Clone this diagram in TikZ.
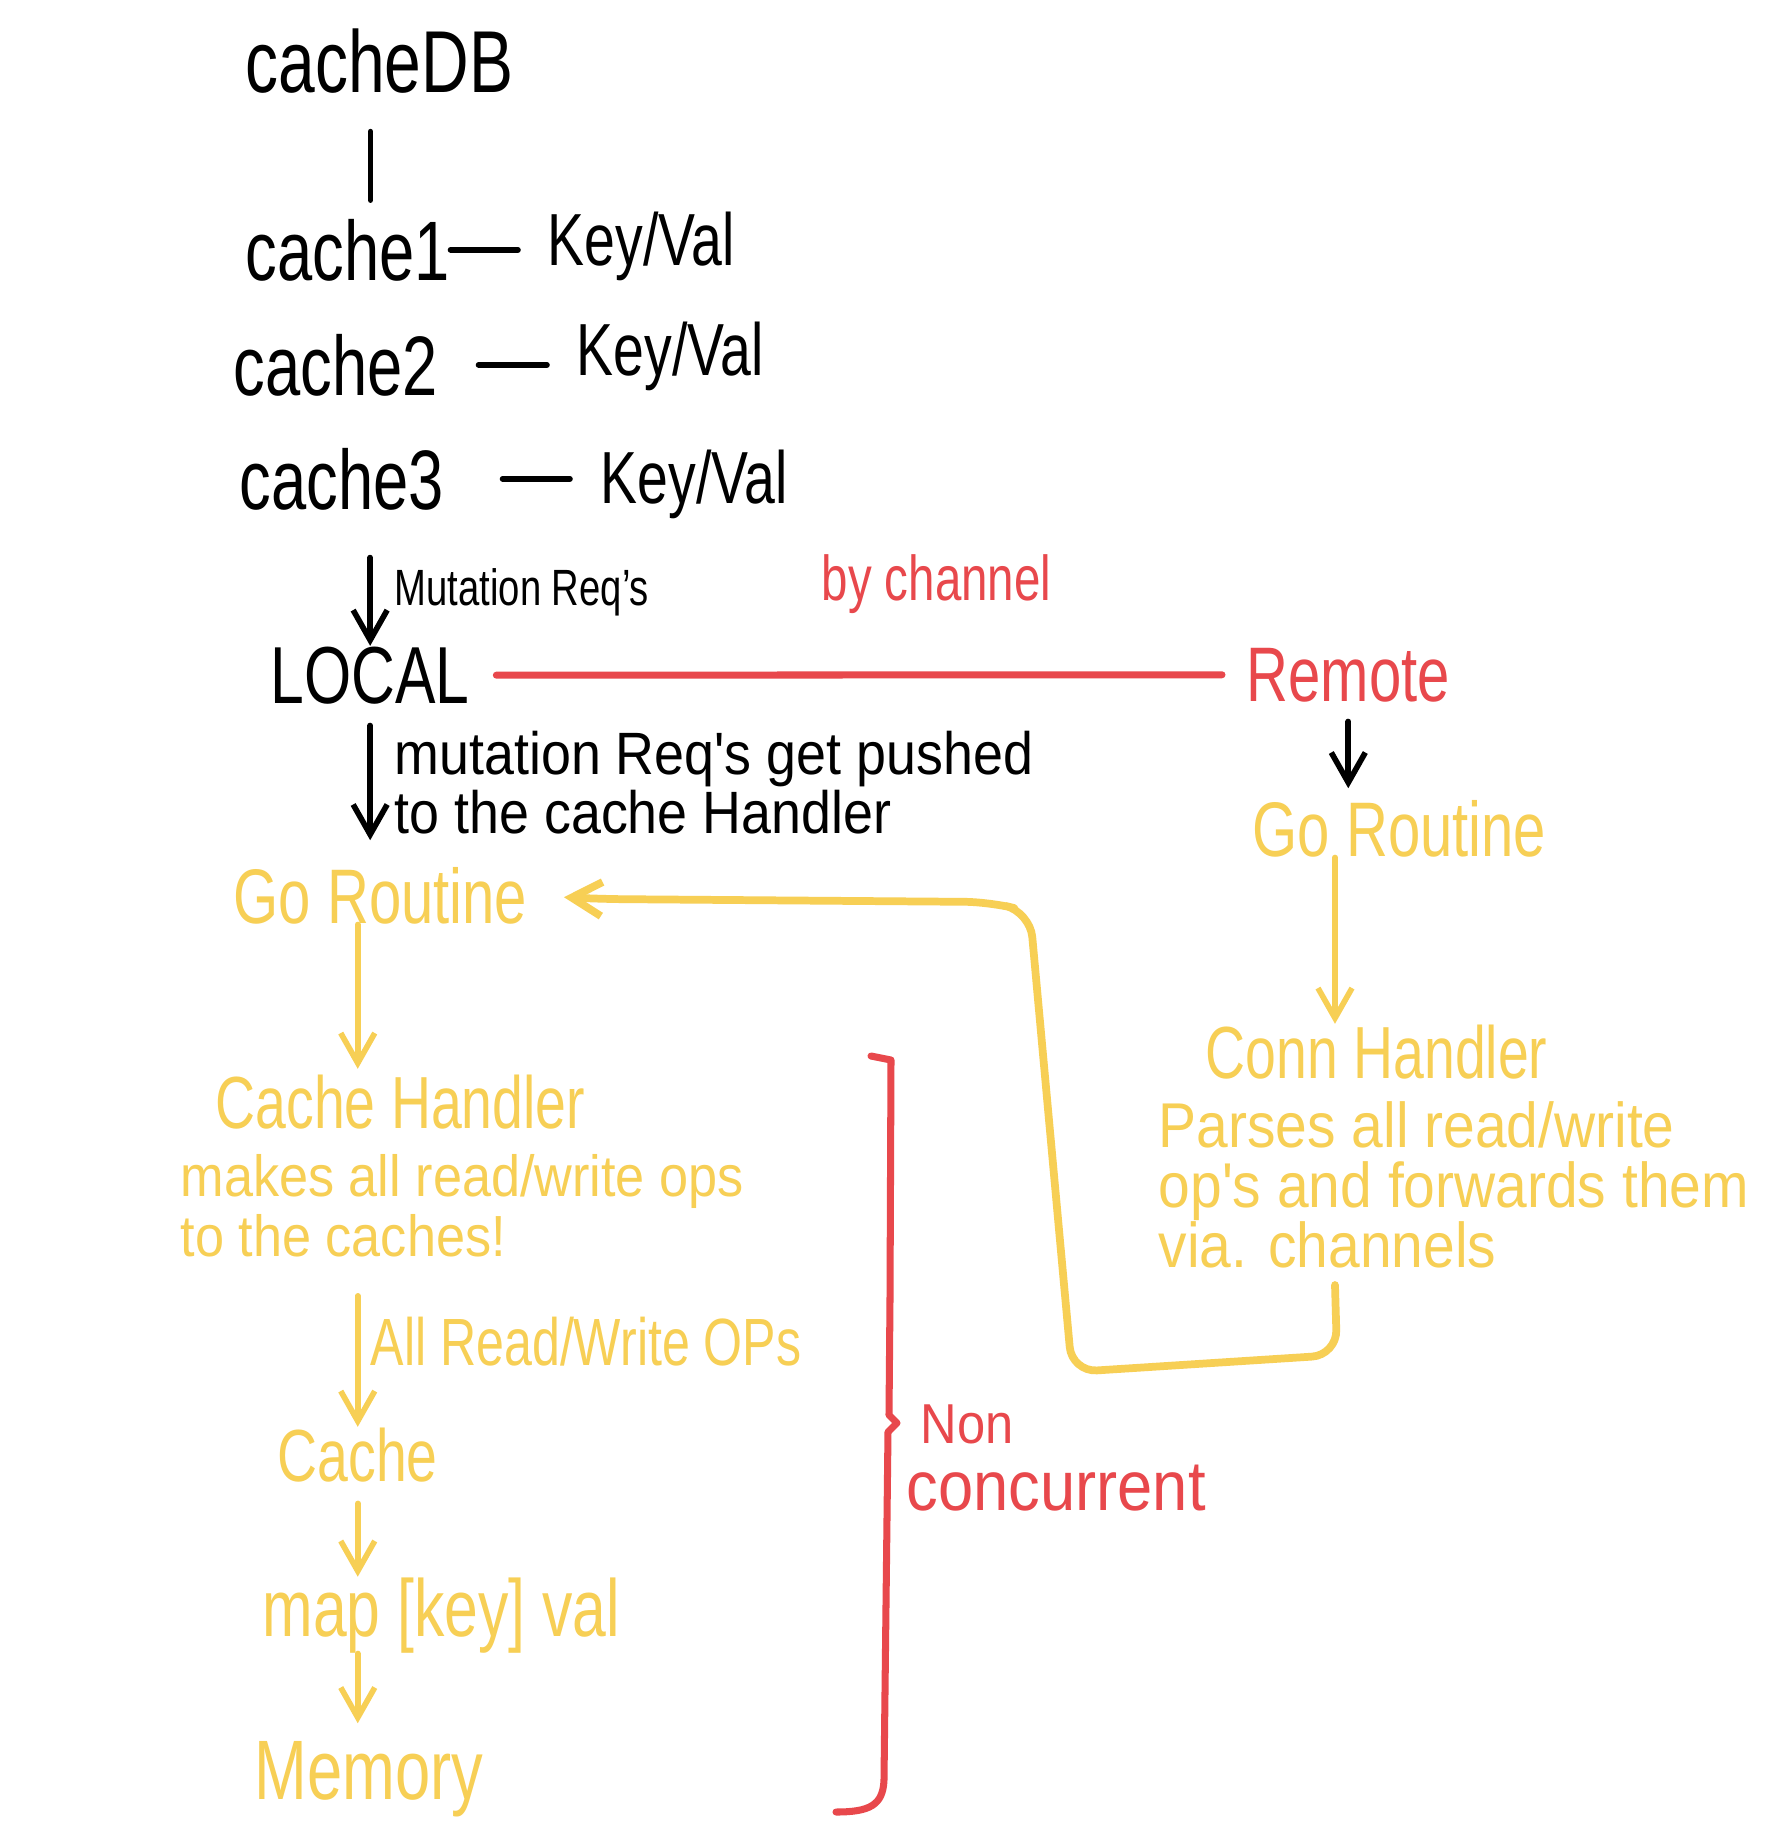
\documentclass[tikz,border=0pt]{standalone}
\usepackage{fontspec}
\setmainfont{Liberation Sans}[FakeStretch=0.75]
\newfontfamily\widehand{Liberation Sans}[FakeStretch=0.9]
\usetikzlibrary{arrows.meta}
\lineskiplimit=-100pt

\begin{document}
\begin{tikzpicture}[line cap=round,line join=round,>={Straight Barb[length=3mm,width=3.4mm]},x=0.01cm,y=-0.01cm,
  inner sep=0pt,
  lbl/.style={anchor=base west},
  para/.style={anchor=north west,align=left},
  ink/.style={line width=1.6pt,color=black},
  redink/.style={line width=2pt,color=rdpen},
  ylwink/.style={line width=1.6pt,color=ylpen}]
\definecolor{rdpen}{rgb}{0.91,0.282,0.298}
\definecolor{ylpen}{rgb}{0.969,0.812,0.333}

\fill[white] (0,0) rectangle (1772,1826);
\useasboundingbox (0,0) rectangle (1772,1826);

% the cache store
\draw (245,92) node[lbl,font=\fontsize{25}{25}\selectfont] (cdb) {cacheDB};
\draw (245,280) node[lbl,font=\fontsize{24}{24}\selectfont] (ca1) {cache1};
\draw (547,265) node[lbl,font=\fontsize{21}{21}\selectfont] (kv1) {Key/Val};
\draw (233,395) node[lbl,font=\fontsize{24}{24}\selectfont] (ca2) {cache2};
\draw (576,375) node[lbl,font=\fontsize{21}{21}\selectfont] (kv2) {Key/Val};
\draw (239,509) node[lbl,font=\fontsize{24}{24}\selectfont] (ca3) {cache3};
\draw (600,503) node[lbl,font=\fontsize{21}{21}\selectfont] (kv3) {Key/Val};
\draw[ink,shorten <=3.8mm,shorten >=1.8mm] ([xshift=-0.9mm]cdb.south) -- ([xshift=-0.9mm]cdb.south |- ca1.north);
\draw[ink,shorten >=2.9mm] (ca1.east) -- (ca1.east -| kv1.west);
\draw[ink,shorten <=4mm,shorten >=2.9mm] (ca2.east) -- (ca2.east -| kv2.west);
\draw[ink,shorten <=5.8mm,shorten >=3mm] (ca3.east) -- (ca3.east -| kv3.west);

% local / remote
\draw (394,605) node[lbl,font=\fontsize{14.5}{15}\selectfont] (mreq) {Mutation Req's};
\draw[color=rdpen] (821,600) node[lbl,font=\fontsize{18}{18}\selectfont] (bych) {by channel};
\draw (270,703) node[lbl,font=\fontsize{23}{23}\selectfont] (lcl) {LOCAL};
\draw[color=rdpen] (1246,701) node[lbl,font=\fontsize{22}{22}\selectfont] (rmt) {Remote};
\draw[ink,->,shorten <=4.7mm] (ca3.south -| lcl.north) -- (lcl.north);
\draw[redink,shorten <=2.6mm,shorten >=2.4mm] (lcl.east) -- (rmt.west);
\draw (394,730) node[para,font=\widehand\fontsize{17}{17}\selectfont] (mpush) {mutation Req's get pushed\\to the cache Handler};

% go routines
\draw[color=ylpen] (1252,856) node[lbl,font=\fontsize{22}{22}\selectfont] (goR) {Go Routine};
\draw[color=ylpen] (233,923) node[lbl,font=\fontsize{22}{22}\selectfont] (goL) {Go Routine};
\draw[ink,->,shorten <=2.1mm,shorten >=2.6mm] (lcl.south) -- (lcl.south |- goL.north);
\draw[ink,->,shorten <=1.9mm,shorten >=1.1mm] (rmt.south) -- (rmt.south |- goR.north);

% remote side
\coordinate (fbk) at (1335,1285);
\draw[color=ylpen] (1205,1078) node[lbl,font=\fontsize{21}{21}\selectfont] (con) {Conn Handler};
\draw[color=ylpen] (1158,1101) node[para,font=\widehand\fontsize{18}{17}\selectfont] (cdesc) {Parses all read/write\\op's and forwards them\\via. channels};
\draw[ylwink,->] (fbk |- goR.south) -- (fbk |- con.north);
\draw[ylwink,line width=2.2pt,->,rounded corners=2.5mm,shorten >=3.6mm] (fbk) -- (1337,1355) -- (1072,1372) -- (1030,912) -- (990,902) -- (600,899) -- (goL.east);

% local side
\draw[color=ylpen] (215,1128) node[lbl,font=\fontsize{21}{21}\selectfont] (chd) {Cache Handler};
\draw[color=ylpen] (180,1154) node[para,font=\widehand\fontsize{16.5}{17}\selectfont] (chx) {makes all read/write ops\\to the caches!};
\draw[color=ylpen] (370,1365) node[lbl,font=\fontsize{19}{19}\selectfont] (rwops) {All Read/Write OPs};
\draw[color=ylpen] (277,1481) node[lbl,font=\fontsize{21}{21}\selectfont] (cch) {Cache};
\draw[color=ylpen] (262,1636) node[lbl,font=\fontsize{23}{23}\selectfont] (map) {map [key] val};
\draw[color=ylpen] (254,1799) node[lbl,font=\fontsize{24}{24}\selectfont] (mem) {Memory};
\draw[ylwink,->,shorten >=0.5mm] (goL.south -| cch.north) -- (chd.north -| cch.north);
\draw[ylwink,->,shorten <=3.8mm] (chx.south -| cch.north) -- (cch.north);
\draw[ylwink,->,shorten <=2.1mm] (cch.south) -- (cch.south |- map.north);
\draw[ylwink,->,shorten >=1.7mm] (cch.south |- map.south) -- (cch.south |- mem.north);

% brace
\draw[redink] (871,1056) -- (891,1060) -- (890,1300) -- (889,1415) -- (897,1423) -- (888,1432) -- (884,1780) .. controls (883,1805) and (870,1812) .. (836,1812);
\draw[color=rdpen] (906,1404) node[para,font=\widehand\fontsize{20}{19}\selectfont] (ncc) {\hspace*{4pt}{\fontsize{16}{19}\selectfont Non}\\concurrent};
\end{tikzpicture}
\end{document}
